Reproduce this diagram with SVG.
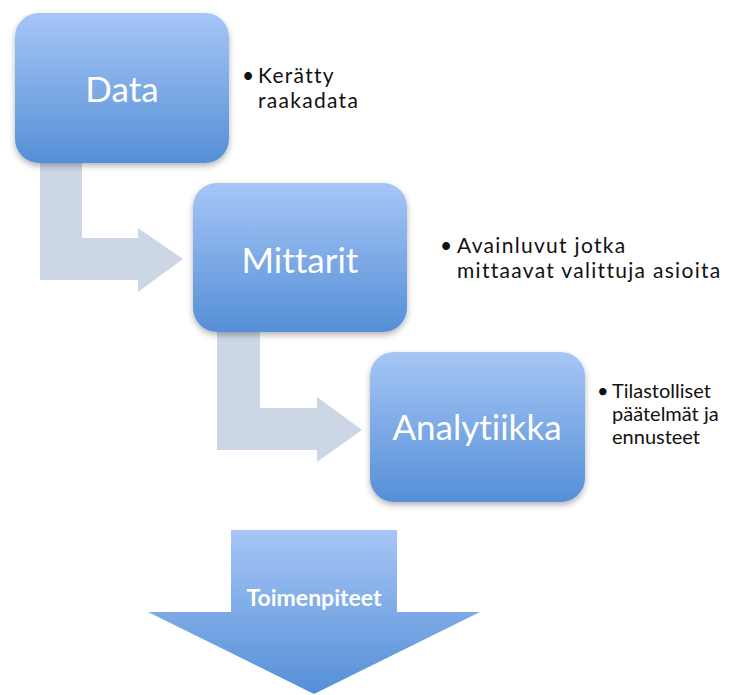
<svg xmlns="http://www.w3.org/2000/svg" width="729" height="695" viewBox="0 0 729 695">
<style>
text{font-variant-ligatures:none;font-feature-settings:"liga" 0}
.box{fill:url(#bg);filter:url(#sh)}
.lbl{font-family:Lato,"Liberation Sans",sans-serif;font-size:35px;fill:#ffffff;text-anchor:middle}
.bul{font-family:Lato,"Liberation Sans",sans-serif;fill:#111111}
.conn{fill:#cdd6e5}
</style>
<defs>
<linearGradient id="bg" x1="0" y1="0" x2="0" y2="1">
<stop offset="0" stop-color="#a6c6f6"/>
<stop offset="1" stop-color="#558fd7"/>
</linearGradient>
<filter id="sh" x="-10%" y="-10%" width="120%" height="125%">
<feGaussianBlur in="SourceAlpha" stdDeviation="3"/>
<feOffset dy="3" result="b"/>
<feComponentTransfer><feFuncA type="linear" slope="0.3"/></feComponentTransfer>
<feMerge><feMergeNode/><feMergeNode in="SourceGraphic"/></feMerge>
</filter>
</defs>
<rect width="729" height="695" fill="#ffffff"/>
<g id="connectors">
<path class="conn" d="M40,150 H82 V238 H138 V228 L183,259 L138,292 V280 H40 Z"/>
<path class="conn" d="M217,320 H260 V408 H317 V397 L362,430 L317,462 V450 H217 Z"/>
</g>
<g id="node-data">
<rect class="box" x="15" y="13" width="214" height="150" rx="24"/>
<text class="lbl" x="122" y="102">Data</text>
</g>
<g id="note-data">
<text class="bul" font-size="21" letter-spacing="1.3"><tspan x="242" y="83">•</tspan><tspan x="258" y="83">Kerätty</tspan><tspan x="258" y="108">raakadata</tspan></text>
</g>
<g id="node-mittarit">
<rect class="box" x="193" y="183" width="214" height="149" rx="24"/>
<text class="lbl" x="300" y="273">Mittarit</text>
</g>
<g id="note-mittarit">
<text class="bul" font-size="21" letter-spacing="1.3"><tspan x="440" y="253">•</tspan><tspan x="457" y="253">Avainluvut jotka</tspan><tspan x="457" y="278">mittaavat valittuja asioita</tspan></text>
</g>
<g id="node-analytiikka">
<rect class="box" x="370" y="352" width="215" height="150" rx="24"/>
<text class="lbl" x="477" y="440">Analytiikka</text>
</g>
<g id="note-analytiikka">
<text class="bul" font-size="20"><tspan x="597" y="398">•</tspan><tspan x="612" y="398">Tilastolliset</tspan><tspan x="612" y="421">päätelmät ja</tspan><tspan x="612" y="444">ennusteet</tspan></text>
</g>
<g id="node-toimenpiteet">
<path fill="url(#bg)" d="M231,530 H397 V612 H480 L314,694 L148,612 H231 Z"/>
<text x="314" y="606" font-family="Lato,'Liberation Sans',sans-serif" font-size="23" font-weight="bold" fill="#ffffff" text-anchor="middle">Toimenpiteet</text>
</g>
</svg>
